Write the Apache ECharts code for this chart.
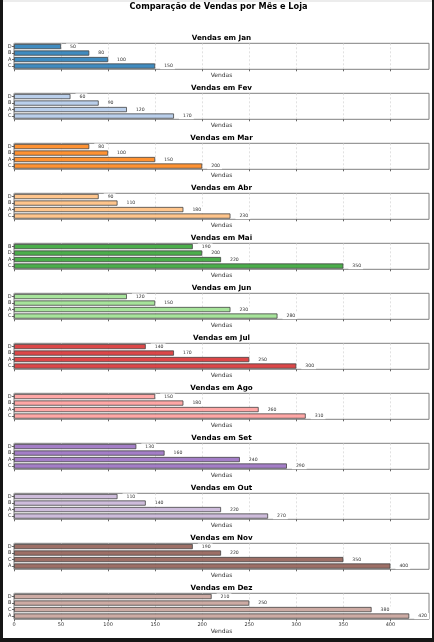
<!DOCTYPE html>
<html><head><meta charset="utf-8">
<script src="https://cdn.jsdelivr.net/npm/echarts@6/dist/echarts.min.js"></script>
<style>
html,body{margin:0;padding:0;background:#161616;width:434px;height:642px;overflow:hidden}
#c{position:absolute;left:3px;top:0;width:429px;height:638px;background:#fff}
#strip{position:absolute;left:3px;top:0;width:429px;height:2px;background:#ececec;z-index:5}
</style>
</head><body><div id="c"></div><div id="strip"></div>
<script>
const mainTitle = 'Comparação de Vendas por Mês e Loja';
const months = ['Jan','Fev','Mar','Abr','Mai','Jun','Jul','Ago','Set','Out','Nov','Dez'];
const stores = [
  ['D','B','A','C'], ['D','B','A','C'], ['D','B','A','C'], ['D','B','A','C'],
  ['B','D','A','C'], ['D','B','A','C'], ['D','B','A','C'], ['D','B','A','C'],
  ['D','B','A','C'], ['D','B','A','C'], ['D','B','C','A'], ['D','B','C','A']
];
const sales = [
  [50,80,100,150], [60,90,120,170], [80,100,150,200], [90,110,180,230],
  [190,200,220,350], [120,150,230,280], [140,170,250,300], [150,180,260,310],
  [130,160,240,290], [110,140,220,270], [190,220,350,400], [210,250,380,420]
];
const colors = ['#1f77b4','#aec7e8','#ff7f0e','#ffbb78','#2ca02c','#98df8a',
                '#d62728','#ff9896','#9467bd','#c5b0d5','#8c564b','#c49c94'];
const xTicks = [0,50,100,150,200,250,300,350,400];
const xLabel = 'Vendas';

function rgba(hex, a){
  const n = parseInt(hex.slice(1),16);
  return 'rgba(' + ((n>>16)&255) + ',' + ((n>>8)&255) + ',' + (n&255) + ',' + a + ')';
}

const FONT = 'DejaVu Sans';
const plotLeft = 11, plotWidth = 415, plotTop0 = 43.3, pitch = 50, plotH = 26;
const grids = [], xAxes = [], yAxes = [], series = [], graphics = [];

graphics.push({type:'text', x: 215.5, y: 7.3, z: 10,
  style:{text: mainTitle, align:'center', verticalAlign:'middle',
         fontSize: 8.2, fontWeight:'bold', fontFamily: FONT, fill:'#000'}});

months.forEach((m, i) => {
  const top = plotTop0 + pitch * i;
  const last = i === months.length - 1;
  grids.push({left: plotLeft, top: top, width: plotWidth, height: plotH,
    show: true, borderColor: '#808080', borderWidth: 1, backgroundColor: 'transparent'});
  xAxes.push({gridIndex: i, type: 'value', min: 0, max: 441, interval: 50,
    axisLine: {show: false},
    axisTick: {show: true, length: 2, lineStyle: {color: '#444', width: 0.8}, customValues: xTicks},
    axisLabel: {show: last, fontSize: 5, color: '#333', margin: 3, fontFamily: FONT,
                customValues: xTicks},
    splitLine: {show: true, lineStyle: {color: '#d4d4d4', type: [2,2], width: 0.7}},
    name: xLabel, nameLocation: 'middle', nameGap: last ? 9.5 : 3.5,
    nameTextStyle: {fontSize: 6, color: '#333', fontFamily: FONT, verticalAlign: 'top'}});
  yAxes.push({gridIndex: i, type: 'category', inverse: true, data: stores[i],
    axisLine: {show: false},
    axisTick: {show: true, length: 2, alignWithLabel: true, interval: 0, lineStyle: {color: '#444', width: 0.8}},
    axisLabel: {fontSize: 5, color: '#333', margin: 2.5, fontFamily: FONT, interval: 0},
    splitLine: {show: false}});
  series.push({type: 'bar', xAxisIndex: i, yAxisIndex: i, data: sales[i], barWidth: 5.2,
    silent: true,
    itemStyle: {color: rgba(colors[i], 0.85), borderColor: '#444', borderWidth: 0.8},
    label: {show: true, position: 'right', distance: 5, formatter: '{c}',
      fontSize: 4.6, color: '#333', fontFamily: FONT, backgroundColor: '#fff',
      padding: [0.6, 2, 0.6, 4], lineHeight: 5}});
  graphics.push({type: 'text', x: plotLeft + plotWidth / 2, y: top - 5, z: 10,
    style: {text: 'Vendas em ' + m, align: 'center', verticalAlign: 'middle',
            fontSize: 7.2, fontWeight: 'bold', fontFamily: FONT, fill: '#000'}});
});

const chart = echarts.init(document.getElementById('c'), null, {renderer: 'canvas'});
chart.setOption({
  animation: false,
  backgroundColor: '#fff',
  textStyle: {fontFamily: FONT},
  grid: grids, xAxis: xAxes, yAxis: yAxes, series: series, graphic: graphics
});
</script>
</body></html>
